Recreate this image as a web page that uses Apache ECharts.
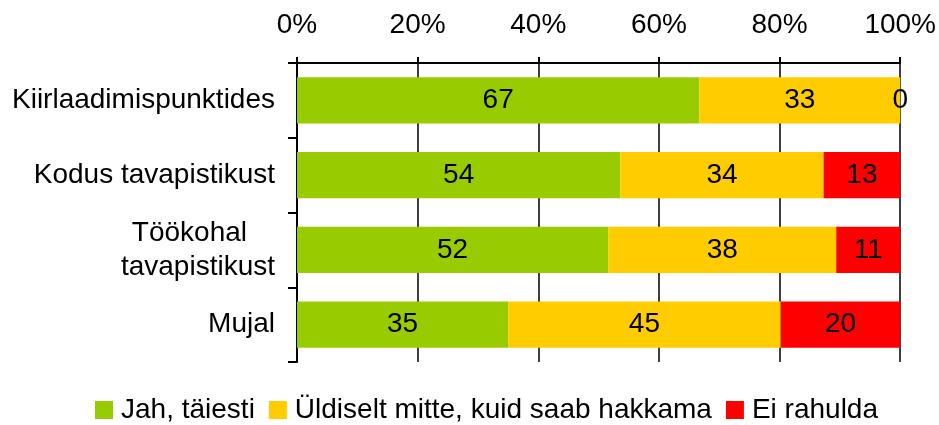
<!DOCTYPE html>
<html>
<head>
<meta charset="utf-8">
<script src="https://cdn.jsdelivr.net/npm/echarts@6/dist/echarts.min.js"></script>
<style>
  html, body { margin: 0; padding: 0; background: #fff; }
  #chart { width: 939px; height: 425px; }
</style>
</head>
<body>
<div id="chart"></div>
<script>
// kategooriad (ülevalt alla)
const categories = ['Kiirlaadimispunktides', 'Kodus tavapistikust', 'Töökohal\ntavapistikust', 'Mujal']
const seriesNames = ['Jah, täiesti', 'Üldiselt mitte, kuid saab hakkama', 'Ei rahulda']
// osakaalud %, loetud pildilt (sildid ümardatud)
const jah = [66.7, 53.6, 51.6, 35.0]
const yldiselt = [33.3, 33.7, 37.8, 45.2]
const eiRahulda = [0, 12.7, 10.6, 19.8]
const colors = ['#99CC00', '#FFCC00', '#FF0000']

const FONT = 'Liberation Sans, Arial, sans-serif'

const chart = echarts.init(document.getElementById('chart'), null, { renderer: 'canvas' })

const mkSeries = (name, data, color) => ({
    name,
    type: 'bar',
    stack: 'total',
    data,
    barWidth: '62%',
    itemStyle: { color },
    label: {
        show: true,
        position: 'inside',
        color: '#000',
        fontFamily: FONT,
        fontSize: 28,
        formatter: p => Math.round(p.value)
    }
})

chart.setOption({
    animation: false,
    textStyle: { fontFamily: FONT },
    grid: { left: 297, right: 37, top: 63, bottom: 63 },
    xAxis: {
        type: 'value',
        position: 'top',
        min: 0,
        max: 100,
        interval: 20,
        axisLine: { show: true, lineStyle: { color: '#000', width: 2 } },
        axisTick: { show: true, length: 6, lineStyle: { color: '#000', width: 2 } },
        axisLabel: { formatter: '{value}%', color: '#000', fontSize: 28, fontFamily: FONT, margin: 24 },
        splitLine: { show: true, lineStyle: { color: '#000', width: 1.5 } }
    },
    yAxis: {
        type: 'category',
        inverse: true,
        data: categories,
        axisLine: { show: true, lineStyle: { color: '#000', width: 2 } },
        axisTick: { show: true, length: 9, lineStyle: { color: '#000', width: 2 } },
        axisLabel: {
            color: '#000',
            fontSize: 28,
            fontFamily: FONT,
            margin: 22,
            lineHeight: 34,
            formatter: v => {
                const parts = v.split('\n')
                if (parts.length === 1) return v
                return '{a|' + parts[0] + '}\n{b|' + parts[1] + '}'
            },
            rich: {
                a: { fontSize: 28, fontFamily: FONT, color: '#000', lineHeight: 34, padding: [0, 28, 0, 0] },
                b: { fontSize: 28, fontFamily: FONT, color: '#000', lineHeight: 34 }
            }
        }
    },
    legend: {
        left: 90,
        top: 391,
        itemWidth: 18,
        itemHeight: 18,
        itemGap: 14,
        icon: 'rect',
        textStyle: { color: '#000', fontSize: 28, fontFamily: FONT, padding: [0, 0, 0, 3] },
        data: seriesNames
    },
    series: [
        mkSeries(seriesNames[0], jah, colors[0]),
        mkSeries(seriesNames[1], yldiselt, colors[1]),
        mkSeries(seriesNames[2], eiRahulda, colors[2])
    ]
})
</script>
</body>
</html>
